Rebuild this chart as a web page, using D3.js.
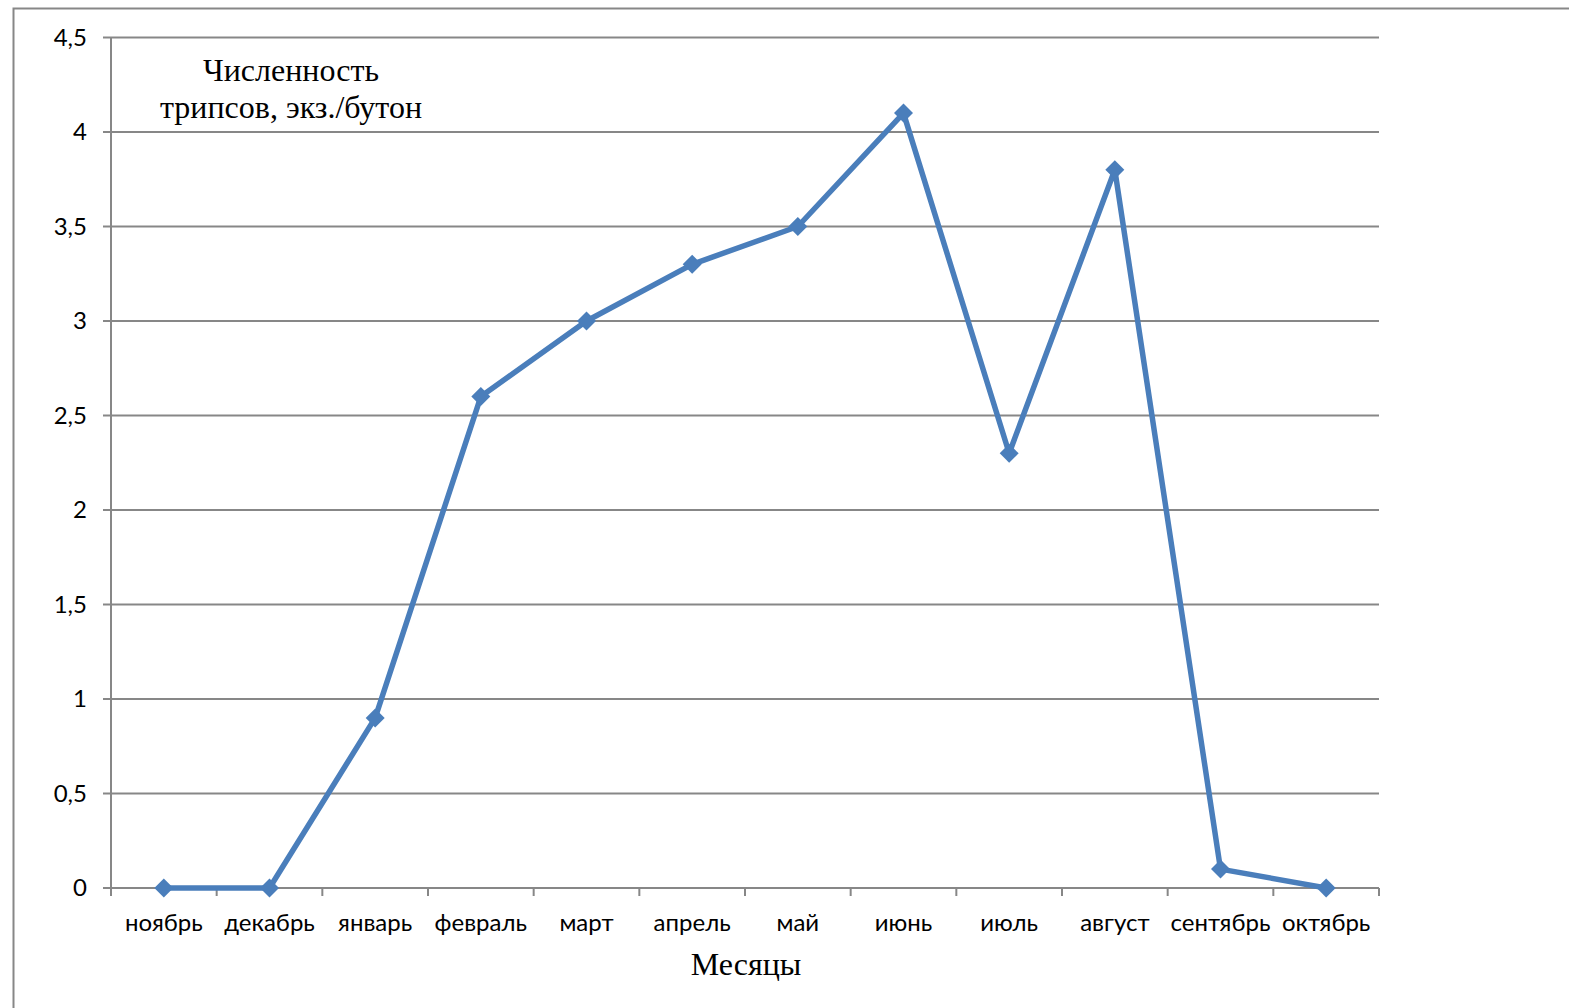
<!DOCTYPE html>
<html>
<head>
<meta charset="utf-8">
<script src="https://cdn.jsdelivr.net/npm/d3@7/dist/d3.min.js"></script>
<style>
  html, body { margin: 0; padding: 0; background: #fff; }
  svg { display: block; }
</style>
</head>
<body>
<svg id="chart" width="1569" height="1008"></svg>
<script>
// Thrips abundance by month
const months = ["ноябрь", "декабрь", "январь", "февраль", "март", "апрель",
                "май", "июнь", "июль", "август", "сентябрь", "октябрь"];
const thrips = [0, 0, 0.9, 2.6, 3.0, 3.3, 3.5, 4.1, 2.3, 3.8, 0.1, 0];
const yTicks = [0, 0.5, 1, 1.5, 2, 2.5, 3, 3.5, 4, 4.5];
const titleLines = ["Численность", "трипсов, экз./бутон"];
const xTitle = "Месяцы";

const svg = d3.select("#chart");
const plotLeft = 111, plotRight = 1379, plotTop = 37.5, plotBottom = 888;
const sansFont = "Lato, 'Open Sans', sans-serif";
const serifFont = "'Liberation Serif', 'DejaVu Serif', serif";
const gridColor = "#878787";
const lineColor = "#4a7ebb";

// outer frame (runs off the right and bottom edges)
svg.append("path")
  .attr("d", "M13.5,1010 L13.5,8.5 L1575,8.5")
  .attr("fill", "none").attr("stroke", gridColor).attr("stroke-width", 2);

const x = d3.scaleBand().domain(months).range([plotLeft, plotRight]).padding(0);
const y = d3.scaleLinear().domain([0, 4.5]).range([plotBottom, plotTop]);

// horizontal gridlines with tick stubs
const gy = svg.append("g");
gy.selectAll("line").data(yTicks).join("line")
  .attr("x1", plotLeft - 8).attr("x2", plotRight)
  .attr("y1", d => y(d)).attr("y2", d => y(d))
  .attr("stroke", gridColor).attr("stroke-width", 2);
gy.selectAll("text").data(yTicks).join("text")
  .attr("x", 87).attr("y", d => y(d)).attr("dy", "0.35em")
  .attr("text-anchor", "end")
  .attr("font-family", sansFont).attr("font-size", 24).attr("fill", "#000")
  .text(d => String(d).replace(".", ","));

// vertical axis
svg.append("line")
  .attr("x1", plotLeft).attr("x2", plotLeft).attr("y1", plotTop).attr("y2", plotBottom)
  .attr("stroke", gridColor).attr("stroke-width", 2);

// category tick marks at band boundaries
const bounds = months.map(m => x(m)).concat([plotRight]);
svg.append("g").selectAll("line").data(bounds).join("line")
  .attr("x1", d => d).attr("x2", d => d)
  .attr("y1", plotBottom).attr("y2", plotBottom + 8)
  .attr("stroke", gridColor).attr("stroke-width", 2);

// category labels
svg.append("g").selectAll("text").data(months).join("text")
  .attr("x", d => x(d) + x.bandwidth() / 2).attr("y", 931)
  .attr("text-anchor", "middle")
  .attr("font-family", sansFont).attr("font-size", 24).attr("fill", "#000")
  .text(d => d);

// data line
const line = d3.line()
  .x((d, i) => x(months[i]) + x.bandwidth() / 2)
  .y(d => y(d));
svg.append("path").datum(thrips)
  .attr("d", line)
  .attr("fill", "none").attr("stroke", lineColor)
  .attr("stroke-width", 5.5).attr("stroke-linejoin", "round");

// diamond markers
const diamond = d3.symbol().type(d3.symbolDiamond2).size(230);
svg.append("g").selectAll("path").data(thrips).join("path")
  .attr("transform", (d, i) => `translate(${x(months[i]) + x.bandwidth() / 2},${y(d)})`)
  .attr("d", diamond)
  .attr("fill", lineColor);

// y axis title in the upper left
svg.append("text")
  .attr("x", 291).attr("y", 81)
  .attr("text-anchor", "middle")
  .attr("font-family", serifFont).attr("font-size", 32).attr("fill", "#000")
  .selectAll("tspan").data(titleLines).join("tspan")
  .attr("x", 291).attr("dy", (d, i) => i === 0 ? 0 : 37)
  .text(d => d);

// x axis title
svg.append("text")
  .attr("x", 746).attr("y", 975)
  .attr("text-anchor", "middle")
  .attr("font-family", serifFont).attr("font-size", 32).attr("fill", "#000")
  .text(xTitle);
</script>
</body>
</html>
